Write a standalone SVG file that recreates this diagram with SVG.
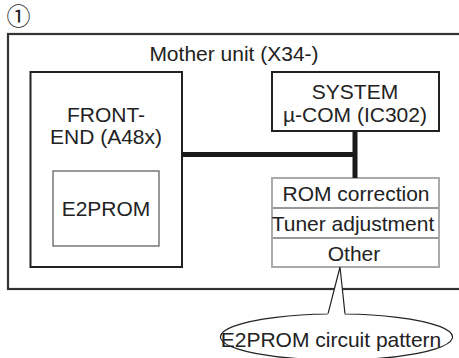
<svg xmlns="http://www.w3.org/2000/svg" width="459" height="358" viewBox="0 0 459 358">
<style>
text{font-family:"Liberation Sans",Arial,sans-serif;font-size:21px;fill:#222;text-anchor:middle}
.box{fill:#fff;stroke:#222;stroke-width:2}
.thin{fill:#fff;stroke:#555;stroke-width:1.2}
.list{fill:#fff;stroke:#aaa;stroke-width:2}
.div{stroke:#333;stroke-width:1.2}
.bus{stroke:#1a1a1a;stroke-width:5;fill:none}
</style>
<rect width="459" height="358" fill="#fff"/>
<text x="18.5" y="25" style="font-family:'Noto Sans CJK JP','DejaVu Sans',sans-serif;font-size:24px">①</text>
<g id="mother">
<rect x="8" y="34" width="470" height="255" fill="none" stroke="#333" stroke-width="2.2"/>
<text x="234" y="61">Mother unit (X34-)</text>
</g>
<g id="frontend">
<rect class="box" x="30.5" y="72" width="151.5" height="195"/>
<text x="106" y="122">FRONT-</text>
<text x="106" y="144">END (A48x)</text>
</g>
<g id="e2prom">
<rect class="thin" x="53" y="171" width="106" height="75"/>
<text x="106" y="216">E2PROM</text>
</g>
<g id="system">
<rect class="box" x="272" y="72" width="167" height="59"/>
<text x="355" y="99">SYSTEM</text>
<text x="355" y="122">µ-COM (IC302)</text>
</g>
<g id="memory">
<rect class="list" x="272" y="178" width="167" height="89"/>
<line class="div" x1="273" y1="208" x2="438" y2="208"/>
<line class="div" x1="273" y1="238" x2="438" y2="238"/>
<text x="356" y="201">ROM correction</text>
<text x="353" y="231">Tuner adjustment</text>
<text x="354" y="261">Other</text>
</g>
<g id="connectors">
<path class="bus" d="M182 154.5 H355 M355 131 V178"/>
</g>
<g id="callout">
<path d="M328 314 A116 23 0 1 0 345 314 L340 267 Z" fill="#fff" stroke="#222" stroke-width="1.2" stroke-linejoin="miter"/>
<path d="M327.5 314.5 L344.5 314.5" stroke="#fff" stroke-width="2"/>
<text x="331" y="347">E2PROM circuit pattern</text>
</g>
</svg>
